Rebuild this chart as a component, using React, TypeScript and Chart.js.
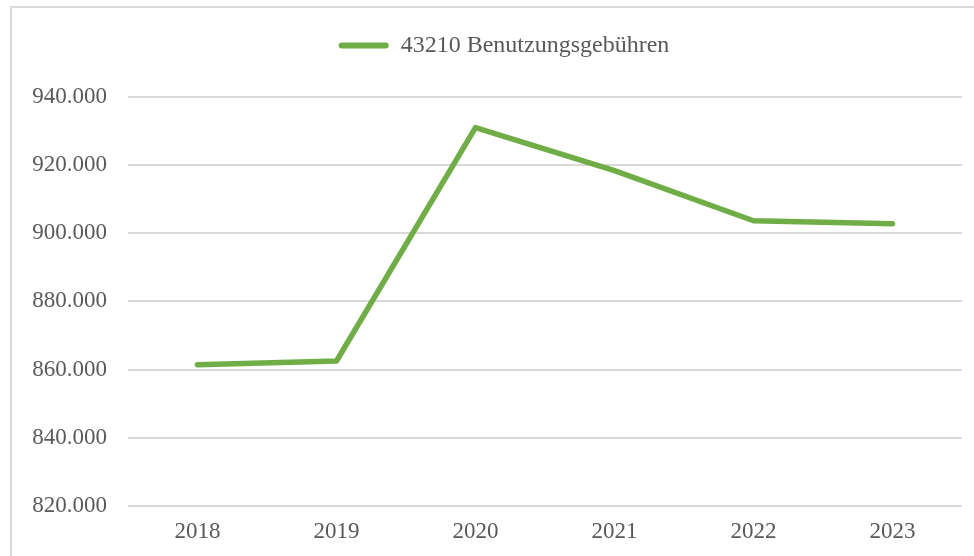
import React, { useEffect, useRef } from "react";
import { Chart, registerables } from "chart.js";

Chart.register(...registerables);

const categories = ["2018", "2019", "2020", "2021", "2022", "2023"];
const seriesLabel = "43210 Benutzungsgebühren";
const seriesValues = [861400, 862500, 930900, 918300, 903600, 902700];
const yMin = 820000;
const yMax = 940000;
const yStep = 20000;

const FONT = "'Liberation Serif', 'Times New Roman', serif";
const TEXT = "#595959";
const GREEN = "#70AD47";
const GRID = "#D9D9D9";

const fmt = (v: number) => String(Math.round(v)).replace(/\B(?=(\d{3})+(?!\d))/g, ".");

export default function App() {
  const ref = useRef<HTMLCanvasElement | null>(null);

  useEffect(() => {
    if (!ref.current) return;
    const chart = new Chart(ref.current, {
      type: "line",
      data: {
        labels: categories,
        datasets: [
          {
            label: seriesLabel,
            data: seriesValues,
            borderColor: GREEN,
            backgroundColor: GREEN,
            borderWidth: 5.5,
            pointRadius: 0,
            pointHoverRadius: 0,
            tension: 0,
            borderCapStyle: "round",
            borderJoinStyle: "round",
            fill: false,
            yAxisID: "y",
          },
        ],
      },
      options: {
        responsive: false,
        animation: false,
        layout: { padding: { left: 0, right: 0, top: 23.5, bottom: -1.6 } },
        plugins: {
          tooltip: { enabled: false },
          legend: {
            position: "top",
            align: "center",
            labels: {
              font: { family: FONT, size: 24, lineHeight: 1.2 },
              color: TEXT,
              boxWidth: 50,
              boxHeight: 6,
              padding: 10,
              generateLabels: (c: any) =>
                Chart.defaults.plugins.legend.labels
                  .generateLabels(c)
                  .map((l: any) => ({ ...l, lineWidth: 0, borderRadius: 3 })),
            },
          },
          subtitle: {
            display: true,
            text: "",
            position: "top",
            weight: 500,
            font: { size: 1, lineHeight: 1 },
            padding: { top: 28, bottom: 0 },
          } as any,
        },
        scales: {
          x: {
            offset: true,
            grid: { display: false, drawTicks: false },
            border: { display: false },
            ticks: {
              font: { family: FONT, size: 23, lineHeight: 1.2 },
              color: TEXT,
              padding: 12,
              maxRotation: 0,
            },
          },
          y: {
            min: yMin,
            max: yMax,
            afterFit: (s: any) => {
              s.width = 128;
            },
            grid: { color: GRID, lineWidth: 2, drawTicks: false },
            border: { display: false },
            ticks: {
              stepSize: yStep,
              font: { family: FONT, size: 23, lineHeight: 1.2 },
              color: TEXT,
              padding: 21,
              callback: (v: any) => fmt(Number(v)),
            },
          },
          yRightSpace: {
            type: "linear",
            position: "right",
            display: true,
            afterFit: (s: any) => {
              s.width = 46;
            },
            grid: { display: false, drawTicks: false },
            border: { display: false },
            ticks: { display: false },
          },
        },
      },
    });
    return () => chart.destroy();
  }, []);

  return (
    <div
      style={{
        position: "fixed",
        left: 0,
        top: 0,
        width: 974,
        height: 556,
        overflow: "hidden",
        background: "#fff",
      }}
    >
      <div
        style={{
          position: "absolute",
          left: 10,
          top: 6,
          width: 1000,
          height: 580,
          border: `2px solid ${GRID}`,
          boxSizing: "border-box",
        }}
      />
      <canvas
        ref={ref}
        width={1008}
        height={556}
        style={{ position: "absolute", left: 0, top: 0, display: "block" }}
      />
    </div>
  );
}
